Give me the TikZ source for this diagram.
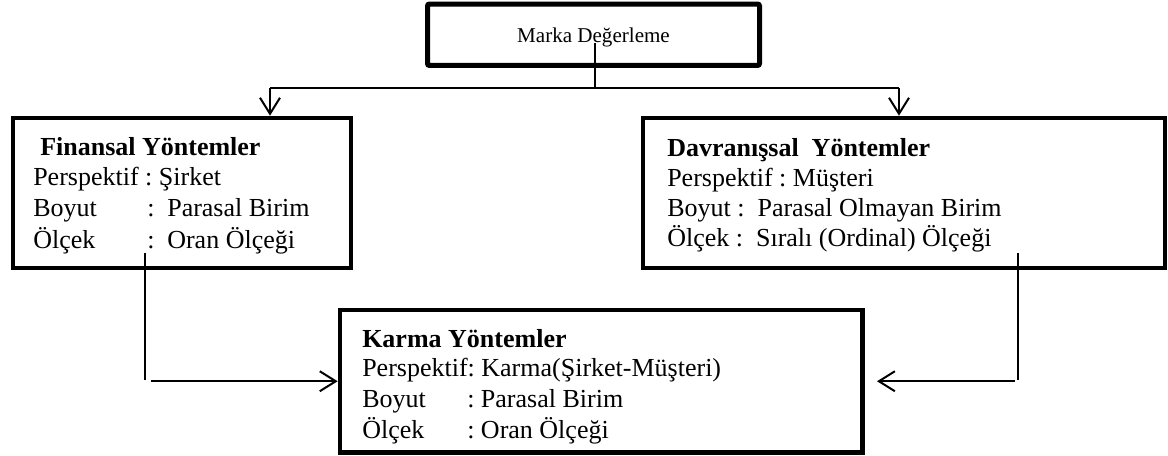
\documentclass[tikz,border=0pt]{standalone}
\usepackage{fontspec}
\setmainfont{Liberation Serif}
\frenchspacing
\usetikzlibrary{arrows.meta}
\begin{document}
\begin{tikzpicture}[x=0.75pt,y=-0.75pt,
  box/.style={draw=black, line width=3.5pt, inner sep=0pt, shape=rectangle},
  conn/.style={draw=black, line width=1.5pt},
  arr/.style={conn, -{Straight Barb[length=12pt,width=15pt]}},
  txt/.style={anchor=base west, inner sep=0pt, font=\fontsize{19.5}{23}\selectfont},
  ttl/.style={txt, font=\fontsize{19.5}{23}\selectfont\bfseries},
]
\useasboundingbox (0,0) rectangle (1168,456);

% boxes
\node[box, line width=3.75pt, rounded corners=1.5pt, minimum width=249pt, minimum height=46.1pt] (top) at (593.5,34.75) {};
\node[box, minimum width=253.5pt, minimum height=112.5pt] (lbox) at (182,193) {};
\node[box, minimum width=391.5pt, minimum height=112.5pt] (rbox) at (904,193) {};
\node[box, minimum width=391.9pt, minimum height=106.9pt] (bot) at (601.25,381.25) {};

% texts
\node[anchor=base, inner sep=0pt, font=\fontsize{15.8}{19}\selectfont] (tt) at (593.5,43) {Marka Değerleme};

\node[ttl] (f1) at (40,156) {Finansal Yöntemler};
\node[txt] (f2) at (33,186) {Perspektif : Şirket};
\node[txt] (f3) at (33,217) {\makebox[85.5pt][l]{Boyut}:\hspace{9.6pt}Parasal Birim};
\node[txt] (f4) at (33,248) {\makebox[85.5pt][l]{Ölçek}:\hspace{9.6pt}Oran Ölçeği};

\node[ttl] (d1) at (667,157) {Davranışsal\ \ Yöntemler};
\node[txt] (d2) at (667,187) {Perspektif : Müşteri};
\node[txt] (d3) at (667,217) {Boyut :\ \ Parasal Olmayan Birim};
\node[txt] (d4) at (667,247) {Ölçek :\ \ Sıralı (Ordinal) Ölçeği};

\node[ttl] (k1) at (362,347) {Karma Yöntemler};
\node[txt] (k2) at (362,376) {Perspektif: Karma(Şirket-Müşteri)};
\node[txt] (k3) at (362,407) {\makebox[78.75pt][l]{Boyut}: Parasal Birim};
\node[txt] (k4) at (362,438) {\makebox[78.75pt][l]{Ölçek}: Oran Ölçeği};

% connectors
\coordinate (tsrc) at (595,43);
\coordinate (jc) at (595,88);
\coordinate (jl) at (270,88);
\coordinate (jr) at (899,88);
\draw[conn] (tsrc) -- (jc);
\draw[conn] (jl) -- (jr);
\draw[arr] (jl) -- (jl |- lbox.north);
\draw[arr] (jr) -- (jr |- rbox.north);

\coordinate (lv1) at (145,253);
\coordinate (lv2) at (145,380);
\draw[conn, line width=1.3pt] (lv1) -- (lv2);
\coordinate (lh) at (151,381.25);
\draw[arr] (lh) -- (bot.west);

\coordinate (rv1) at (1018,253);
\coordinate (rv2) at (1018,380);
\draw[conn, line width=1.3pt] (rv1) -- (rv2);
\coordinate (rh) at (1015,381.25);
\coordinate (rtip) at (877,381.25);
\draw[arr] (rh) -- (rtip);
\end{tikzpicture}
\end{document}
